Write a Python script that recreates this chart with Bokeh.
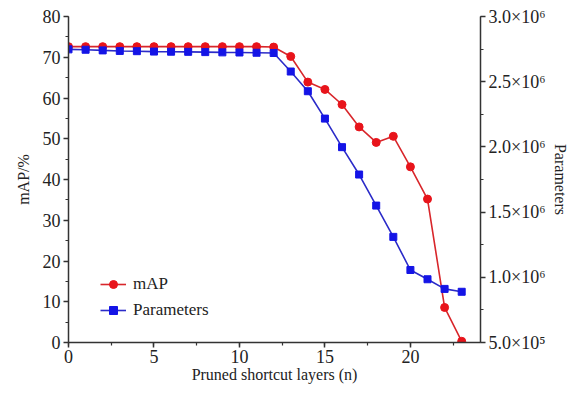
from bokeh.plotting import figure
from bokeh.models import (Range1d, LinearAxis, SingleIntervalTicker, CustomJSTickFormatter, Legend)
from bokeh.embed import file_html
from bokeh.resources import INLINE

layers = list(range(24))
map_vals = [72.6, 72.6, 72.6, 72.6, 72.6, 72.6, 72.6, 72.6, 72.6, 72.6, 72.6, 72.6,
            72.5, 70.2, 63.9, 62.1, 58.4, 52.9, 49.1, 50.6, 43.1, 35.2, 8.6, 0.3]
params = [2.748e6, 2.745e6, 2.740e6, 2.736e6, 2.734e6, 2.731e6, 2.730e6, 2.729e6,
          2.727e6, 2.725e6, 2.724e6, 2.722e6, 2.720e6, 2.578e6, 2.427e6, 2.217e6,
          1.998e6, 1.788e6, 1.550e6, 1.310e6, 1.056e6, 0.985e6, 0.911e6, 0.889e6]

FONT = "Liberation Serif"
RED = "#e8141b"
BLUE = "#1414e6"

p = figure(frame_width=412, frame_height=326, output_backend="svg", toolbar_location=None,
           x_range=Range1d(0, 24.1), y_range=Range1d(0, 80),
           min_border_left=68, min_border_right=0, min_border_top=16, min_border_bottom=0)
p.outline_line_color = None
p.grid.visible = False
p.extra_y_ranges = {"params": Range1d(5e5, 3e6)}

r1l = p.line(layers, map_vals, line_color="#d8262b", line_width=1.6)
r1m = p.scatter(layers, map_vals, marker="circle", size=8, fill_color=RED, line_color=RED)
r2l = p.line(layers, params, line_color="#2b2bc8", line_width=1.6, y_range_name="params")
r2m = p.scatter(layers, params, marker="square", size=7, fill_color=BLUE, line_color=BLUE,
                y_range_name="params")

raxis = LinearAxis(y_range_name="params", axis_label="Parameters")
raxis.ticker = SingleIntervalTicker(interval=5e5, num_minor_ticks=2)
raxis.formatter = CustomJSTickFormatter(code="""
const e = Math.floor(Math.log10(tick));
const m = tick / Math.pow(10, e);
const sup = {"5": "\u2075", "6": "\u2076"};
return m.toFixed(1) + "\u00d710" + (sup[String(e)] || String(e));
""")
p.add_layout(raxis, "right")

p.xaxis.ticker = SingleIntervalTicker(interval=5, num_minor_ticks=2)
p.yaxis[0].ticker = SingleIntervalTicker(interval=10, num_minor_ticks=2)
p.xaxis.axis_label = "Pruned shortcut layers (n)"
p.yaxis[0].axis_label = "mAP/%"

for ax in [p.xaxis[0], p.yaxis[0], raxis]:
    ax.axis_line_color = "#333333"
    ax.axis_line_width = 1.5
    ax.major_tick_line_color = "#333333"
    ax.minor_tick_line_color = "#333333"
    ax.major_tick_line_width = 1.5
    ax.minor_tick_line_width = 1.2
    ax.major_tick_in = 0
    ax.major_tick_out = 5
    ax.minor_tick_in = 0
    ax.minor_tick_out = 3
    ax.major_label_text_font = FONT
    ax.major_label_text_font_size = "18px"
    ax.major_label_text_color = "#222222"
    ax.major_label_text_font_style = "normal"
    ax.axis_label_text_font = FONT
    ax.axis_label_text_font_size = "16px"
    ax.axis_label_text_font_style = "normal"
    ax.axis_label_text_color = "#222222"
    ax.major_label_standoff = 3

p.xaxis.major_label_standoff = 2
p.xaxis.axis_label_standoff = 0
p.yaxis[0].axis_label_standoff = 8
raxis.axis_label_standoff = 4

legend = Legend(items=[("mAP", [r1l, r1m]), ("Parameters", [r2l, r2m])],
                location=(32, 22), padding=0, margin=0, spacing=6,
                glyph_width=26, glyph_height=20, label_height=20, label_standoff=7,
                label_text_font=FONT, label_text_font_style="normal",
                label_text_font_size="17px", label_text_color="#222222",
                border_line_color=None, background_fill_alpha=0)
p.add_layout(legend)

open("out.html", "w").write(file_html(p, INLINE))
